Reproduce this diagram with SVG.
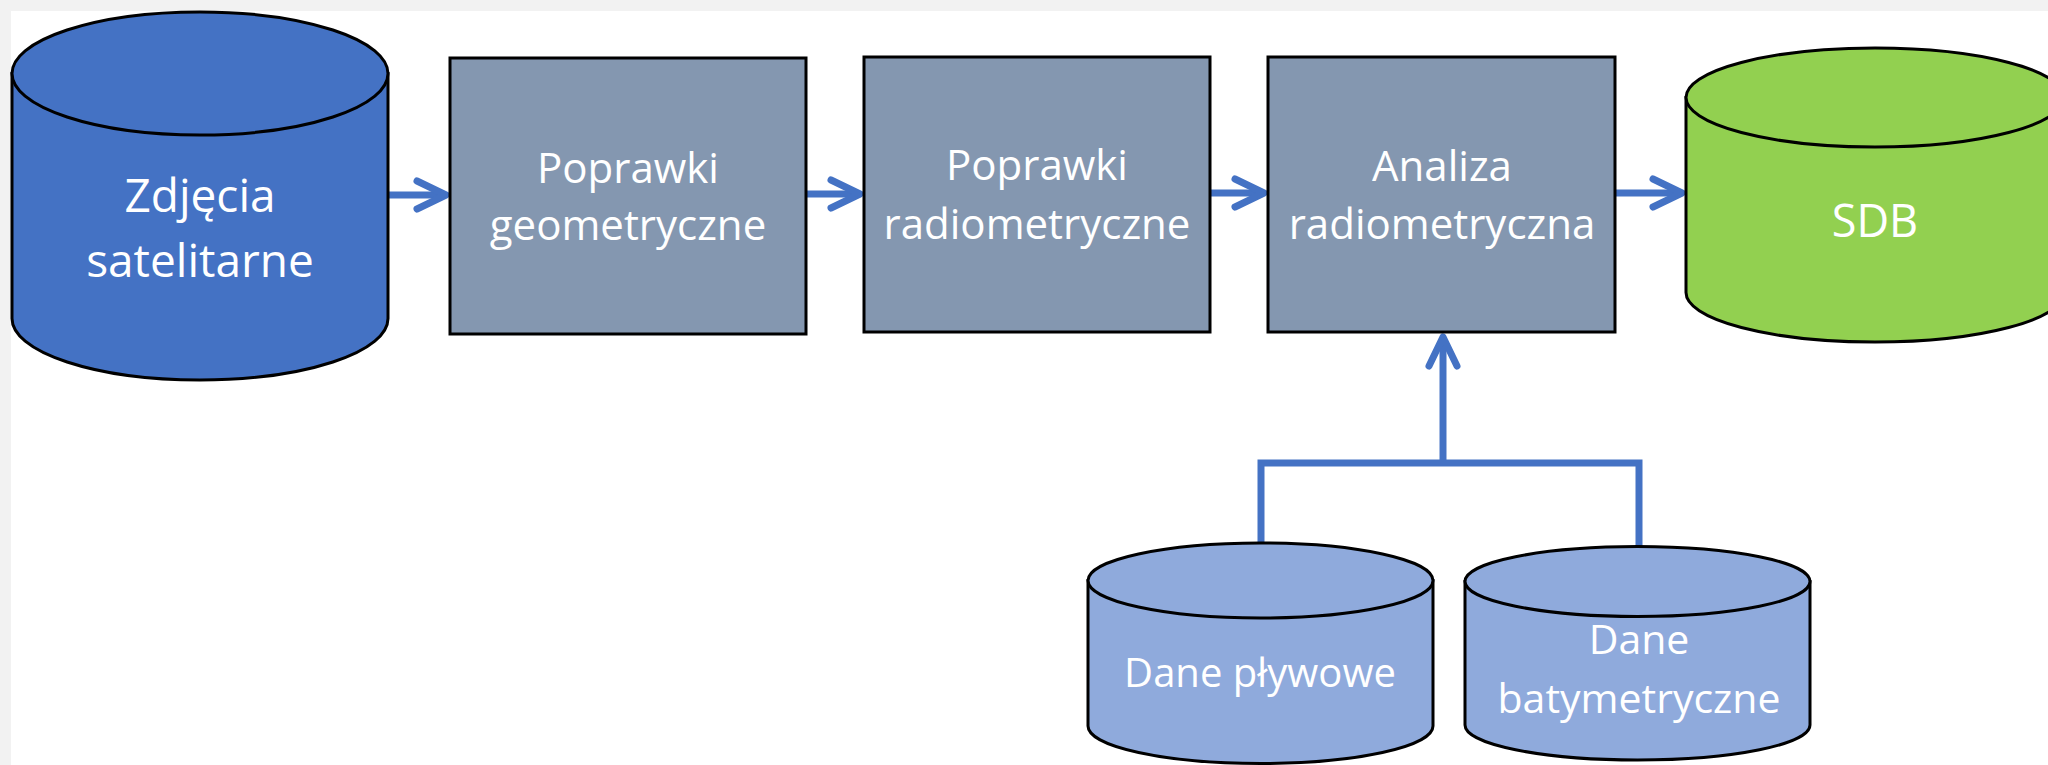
<svg xmlns="http://www.w3.org/2000/svg" width="2048" height="765" viewBox="0 0 2048 765">
  <style>
    .box { fill: #8497b0; stroke: #000; stroke-width: 3; }
    .cyl { stroke: #000; stroke-width: 3; }
    .dark { fill: #4472c4; }
    .green { fill: #92d050; }
    .light { fill: #8faadc; }
    .lbl { font-family: "Open Sans", "Noto Sans", sans-serif; fill: #fff; text-anchor: middle; }
    .flow { fill: none; stroke: #4472c4; stroke-width: 7; }
  </style>
  <defs>
    <marker id="arr" markerUnits="userSpaceOnUse" viewBox="-36 -20 42 40" refX="0" refY="0" markerWidth="42" markerHeight="40" orient="auto">
      <path d="M-29,-14 L0,0 L-29,14" fill="none" stroke="#4472c4" stroke-width="7" stroke-linecap="round" stroke-linejoin="round"/>
    </marker>
  </defs>

  <!-- page frame -->
  <rect x="0" y="0" width="2048" height="765" fill="#f2f2f2"/>
  <rect x="11" y="11" width="2037" height="754" fill="#fff"/>

  <!-- connectors -->
  <g id="connectors">
    <line class="flow" x1="388" y1="195" x2="446" y2="195" marker-end="url(#arr)"/>
    <line class="flow" x1="806" y1="194" x2="860" y2="194" marker-end="url(#arr)"/>
    <line class="flow" x1="1210" y1="193" x2="1264" y2="193" marker-end="url(#arr)"/>
    <line class="flow" x1="1615" y1="193" x2="1682" y2="193" marker-end="url(#arr)"/>
    <polyline class="flow" points="1261,543 1261,463 1639,463 1639,547"/>
    <line class="flow" x1="1443" y1="463" x2="1443" y2="337" marker-end="url(#arr)"/>
  </g>

  <!-- satellite images store -->
  <g id="zdjecia">
    <path class="cyl dark" d="M12,73.5 L12,318.5 A188,61.5 0 0 0 388,318.5 L388,73.5 Z"/>
    <ellipse class="cyl dark" cx="200" cy="73.5" rx="188" ry="61.5"/>
    <text class="lbl" x="200" y="212" font-size="46">Zdjęcia</text>
    <text class="lbl" x="200" y="277" font-size="46">satelitarne</text>
  </g>

  <g id="poprawki-geo">
    <rect class="box" x="450" y="58" width="356" height="276"/>
    <text class="lbl" x="628" y="183" font-size="42">Poprawki</text>
    <text class="lbl" x="628" y="240" font-size="42">geometryczne</text>
  </g>

  <g id="poprawki-rad">
    <rect class="box" x="864" y="57" width="346" height="275"/>
    <text class="lbl" x="1037" y="180" font-size="42">Poprawki</text>
    <text class="lbl" x="1037" y="239" font-size="42">radiometryczne</text>
  </g>

  <g id="analiza">
    <rect class="box" x="1268" y="57" width="347" height="275"/>
    <text class="lbl" x="1442" y="181" font-size="42">Analiza</text>
    <text class="lbl" x="1442" y="239" font-size="42">radiometryczna</text>
  </g>

  <g id="sdb">
    <path class="cyl green" d="M1686,97.5 L1686,292.5 A189,49.5 0 0 0 2064,292.5 L2064,97.5 Z"/>
    <ellipse class="cyl green" cx="1875" cy="97.5" rx="189" ry="49.5"/>
    <text class="lbl" x="1875" y="237" font-size="45">SDB</text>
  </g>

  <g id="dane-plywowe">
    <path class="cyl light" d="M1088,580.5 L1088,726 A172.5,37.5 0 0 0 1433,726 L1433,580.5 Z"/>
    <ellipse class="cyl light" cx="1260.5" cy="580.5" rx="172.5" ry="37.5"/>
    <text class="lbl" x="1260" y="687" font-size="40">Dane pływowe</text>
  </g>

  <g id="dane-batymetryczne">
    <path class="cyl light" d="M1465,581.5 L1465,725 A172.5,35 0 0 0 1810,725 L1810,581.5 Z"/>
    <ellipse class="cyl light" cx="1637.5" cy="581.5" rx="172.5" ry="35"/>
    <text class="lbl" x="1639" y="654" font-size="41">Dane</text>
    <text class="lbl" x="1639" y="713" font-size="41">batymetryczne</text>
  </g>
</svg>
